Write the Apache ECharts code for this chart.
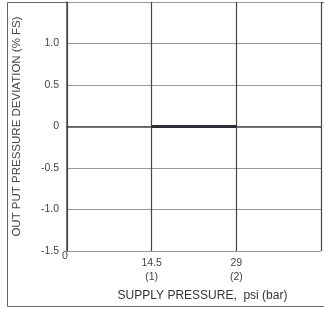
<!DOCTYPE html>
<html><head><meta charset="utf-8">
<script src="https://cdn.jsdelivr.net/npm/echarts@6/dist/echarts.min.js"></script>
<style>html,body{margin:0;padding:0;background:#fff}#c{width:324px;height:309px}</style>
</head><body><div id="c"></div>
<script>
var xTicks = [0, 14.5, 29, 43.5];
var xTickLabels = {"14.5": "14.5\n(1)", "29": "29\n(2)"};
var yTicks = [-1.5, -1.0, -0.5, 0, 0.5, 1.0, 1.5];
var seriesX = [14.5, 29];
var seriesY = [0, 0];
var xTitle = "SUPPLY PRESSURE,  psi (bar)";
var yTitle = "OUT PUT PRESSURE DEVIATION (% FS)";

var chart = echarts.init(document.getElementById('c'), null, {renderer: 'canvas'});
var font = 'Liberation Sans, Arial, sans-serif';
chart.setOption({
  animation: false,
  grid: {left: 67, top: 2, width: 261, bottom: 58, containLabel: false},
  graphic: [
    {type: 'rect', shape: {x: 7.5, y: 2.5, width: 330, height: 304}, style: {fill: 'none', stroke: '#666', lineWidth: 1}, z: -1},
    {type: 'text', left: 62, top: 251, style: {text: '0', font: '10.5px ' + font, fill: '#444'}}
  ],
  xAxis: {
    type: 'value', min: 0, max: 43.5, interval: 14.5,
    name: xTitle, nameLocation: 'middle', nameGap: 39,
    nameTextStyle: {fontFamily: font, fontSize: 12, color: '#333', padding: [0, 0, 0, 17]},
    axisLine: {show: true, lineStyle: {color: '#4a4a4a', width: 1.5}},
    axisTick: {show: false},
    axisLabel: {fontFamily: font, fontSize: 10.5, color: '#444', margin: 5, lineHeight: 14,
      formatter: function (v) { return xTickLabels[String(v)] || ''; }},
    splitLine: {show: true, lineStyle: {color: '#444', width: 1.2}}
  },
  yAxis: {
    type: 'value', min: -1.5, max: 1.5, interval: 0.5,
    name: yTitle, nameLocation: 'middle', nameGap: 44, nameRotate: 90,
    nameTextStyle: {fontFamily: font, fontSize: 11.5, color: '#444'},
    axisLine: {show: true, lineStyle: {color: '#4a4a4a', width: 1.5}},
    axisTick: {show: false},
    axisLabel: {fontFamily: font, fontSize: 10.5, color: '#444', margin: 8,
      formatter: function (v) { if (v >= 1.5) return ''; return v === 0 ? '0' : v.toFixed(1); }},
    splitLine: {show: true, lineStyle: {color: '#999', width: 1.2}}
  },
  series: [{
    type: 'line', data: seriesX.map(function (x, i) { return [x, seriesY[i]]; }),
    symbol: 'none', lineStyle: {color: '#2b2f35', width: 3}, z: 5
  }]
});
</script></body></html>
